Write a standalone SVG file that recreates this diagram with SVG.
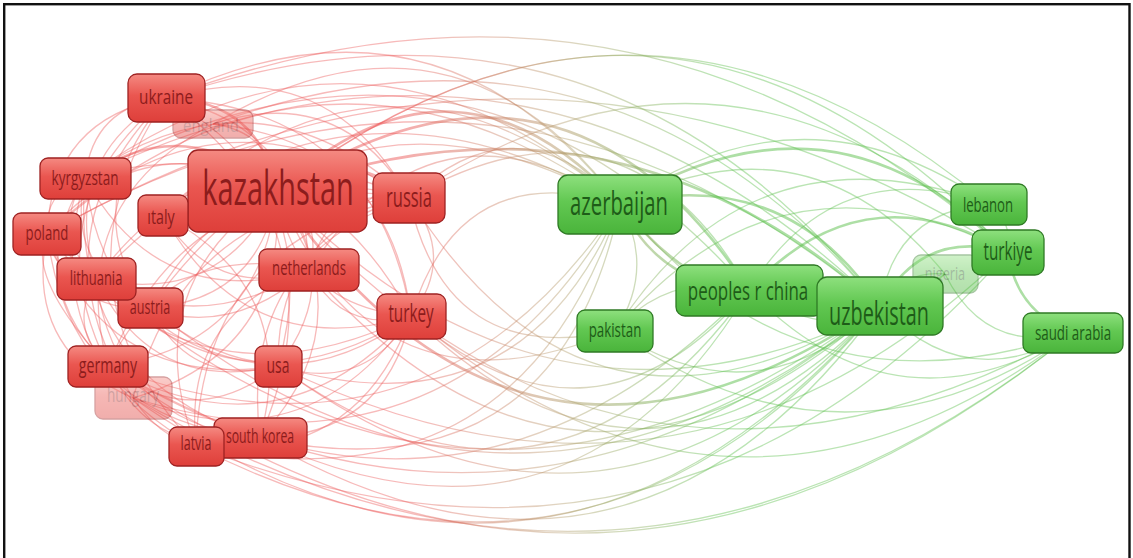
<svg xmlns="http://www.w3.org/2000/svg" width="1133" height="558" viewBox="0 0 1133 558">
<defs>
<linearGradient id="eg" gradientUnits="userSpaceOnUse" x1="400" y1="0" x2="720" y2="0">
<stop offset="0" stop-color="#ec5a5a"/>
<stop offset="0.5" stop-color="#b49a6a"/>
<stop offset="1" stop-color="#5cbf4c"/>
</linearGradient>
<linearGradient id="rg" x1="0" y1="0" x2="0" y2="1">
<stop offset="0" stop-color="#f58a82"/>
<stop offset="0.45" stop-color="#ea5650"/>
<stop offset="1" stop-color="#de3f3a"/>
</linearGradient>
<linearGradient id="gg" x1="0" y1="0" x2="0" y2="1">
<stop offset="0" stop-color="#8ee07e"/>
<stop offset="0.45" stop-color="#62c852"/>
<stop offset="1" stop-color="#4ab43b"/>
</linearGradient>
</defs>
<style>
.e{fill:none;stroke:url(#eg);stroke-width:1.3;stroke-opacity:.42}
.t{stroke-width:2.6;stroke-opacity:.5}
.rn rect{fill:url(#rg);stroke:#9e2222;stroke-width:1.3}
.gn rect{fill:url(#gg);stroke:#2f7a25;stroke-width:1.3}
.rn text{fill:#8c1c1c}
.gn text{fill:#1e5c18}
text{font-family:"Open Sans","Liberation Sans",sans-serif;text-anchor:middle}
.f{opacity:.42}
</style>
<rect x="0" y="0" width="1133" height="558" fill="#fff"/>
<g id="edges" class="edges">
<path class="e t" d="M277 191 Q455 26 620 204"/>
<path class="e t" d="M277 191 Q521 550 880 306"/>
<path class="e t" d="M277 191 Q562 5 749 290"/>
<path class="e" d="M277 191 Q670 -108 1008 252"/>
<path class="e" d="M277 191 Q376 430 615 331"/>
<path class="e" d="M277 191 Q638 -87 989 204"/>
<path class="e" d="M277 191 Q618 580 1073 333"/>
<path class="e" d="M409 198 Q518 96 620 204"/>
<path class="e" d="M409 198 Q591 488 880 306"/>
<path class="e" d="M409 198 Q625 74 749 290"/>
<path class="e" d="M411 316 Q460 156 620 204"/>
<path class="e" d="M411 316 Q651 546 880 306"/>
<path class="e" d="M411 316 Q593 472 749 290"/>
<path class="e" d="M166 98 Q435 -31 620 204"/>
<path class="e" d="M166 98 Q596 -48 880 306"/>
<path class="e" d="M47 234 Q489 -22 880 306"/>
<path class="e" d="M47 234 Q322 -10 620 204"/>
<path class="e" d="M108 366 Q515 606 880 306"/>
<path class="e" d="M108 366 Q429 490 620 204"/>
<path class="e" d="M278 366 Q606 607 880 306"/>
<path class="e" d="M278 366 Q552 564 749 290"/>
<path class="e" d="M260 438 Q629 651 880 306"/>
<path class="e" d="M196 446 Q517 516 620 204"/>
<path class="e" d="M133 398 Q548 688 880 306"/>
<path class="e" d="M96 279 Q328 32 620 204"/>
<path class="e" d="M85 178 Q527 -36 880 306"/>
<path class="e" d="M85 178 Q363 -23 620 204"/>
<path class="e" d="M309 270 Q432 82 620 204"/>
<path class="e" d="M309 270 Q577 574 880 306"/>
<path class="e" d="M163 215 Q387 4 620 204"/>
<path class="e" d="M150 308 Q516 599 880 306"/>
<path class="e" d="M213 124 Q453 -19 620 204"/>
<path class="e" d="M277 191 Q578 500 945 274"/>
<path class="e" d="M196 446 Q594 650 880 306"/>
<path class="e" d="M260 438 Q571 584 749 290"/>
<path class="e" d="M278 366 Q522 439 620 204"/>
<path class="e" d="M108 366 Q459 584 749 290"/>
<path class="e" d="M47 234 Q533 -45 1008 252"/>
<path class="e" d="M166 98 Q633 -78 1008 252"/>
<path class="e" d="M85 178 Q462 -32 749 290"/>
<path class="e" d="M409 198 Q730 -15 1008 252"/>
<path class="e" d="M411 316 Q735 589 1073 333"/>
<path class="e" d="M409 198 Q446 368 615 331"/>
<path class="e" d="M133 398 Q454 496 620 204"/>
<path class="e" d="M96 279 Q477 606 880 306"/>
<path class="e" d="M150 308 Q338 45 620 204"/>
<path class="e" d="M278 366 Q683 565 1008 252"/>
<path class="e" d="M260 438 Q557 501 620 204"/>
<path class="e" d="M213 124 Q610 -18 880 306"/>
<path class="e t" d="M277 191 Q613 68 880 306"/>
<path class="e" d="M133 398 Q626 694 1073 333"/>
<path class="e" d="M196 446 Q670 633 1008 252"/>
<path class="e" d="M108 366 Q603 716 1073 333"/>
<path class="e t" d="M620 204 Q719 333 880 306"/>
<path class="e t" d="M620 204 Q659 286 749 290"/>
<path class="e t" d="M620 204 Q833 73 1008 252"/>
<path class="e" d="M620 204 Q656 269 615 331"/>
<path class="e" d="M620 204 Q804 75 989 204"/>
<path class="e" d="M620 204 Q801 427 1073 333"/>
<path class="e t" d="M749 290 Q819 259 880 306"/>
<path class="e" d="M615 331 Q757 424 880 306"/>
<path class="e" d="M615 331 Q670 270 749 290"/>
<path class="e t" d="M880 306 Q922 228 1008 252"/>
<path class="e" d="M880 306 Q966 397 1073 333"/>
<path class="e" d="M880 306 Q894 211 989 204"/>
<path class="e" d="M880 306 Q903 270 945 274"/>
<path class="e t" d="M1008 252 Q1016 312 1073 333"/>
<path class="e" d="M989 204 Q1013 222 1008 252"/>
<path class="e t" d="M749 290 Q863 167 1008 252"/>
<path class="e" d="M749 290 Q894 441 1073 333"/>
<path class="e" d="M615 331 Q780 134 1008 252"/>
<path class="e" d="M615 331 Q843 492 1073 333"/>
<path class="e" d="M945 274 Q985 355 1073 333"/>
<path class="e" d="M749 290 Q835 151 989 204"/>
<path class="e" d="M620 204 Q810 109 945 274"/>
<path class="e" d="M749 290 Q853 360 945 274"/>
<path class="e t" d="M620 204 Q786 164 880 306"/>
<path class="e" d="M615 331 Q751 118 989 204"/>
<path class="e t" d="M166 98 Q259 100 277 191"/>
<path class="e t" d="M85 178 Q186 108 277 191"/>
<path class="e" d="M47 234 Q145 120 277 191"/>
<path class="e" d="M96 279 Q222 307 277 191"/>
<path class="e" d="M150 308 Q260 300 277 191"/>
<path class="e" d="M108 366 Q262 346 277 191"/>
<path class="e" d="M277 191 Q347 278 278 366"/>
<path class="e" d="M277 191 Q367 321 260 438"/>
<path class="e" d="M277 191 Q134 286 196 446"/>
<path class="e" d="M133 398 Q288 352 277 191"/>
<path class="e t" d="M277 191 Q346 142 409 198"/>
<path class="e" d="M277 191 Q294 307 411 316"/>
<path class="e" d="M277 191 Q325 218 309 270"/>
<path class="e" d="M163 215 Q210 157 277 191"/>
<path class="e" d="M213 124 Q272 132 277 191"/>
<path class="e" d="M166 98 Q327 51 409 198"/>
<path class="e" d="M166 98 Q376 109 411 316"/>
<path class="e" d="M47 234 Q52 118 166 98"/>
<path class="e" d="M108 366 Q30 209 166 98"/>
<path class="e" d="M166 98 Q329 187 278 366"/>
<path class="e" d="M166 98 Q349 230 260 438"/>
<path class="e" d="M196 446 Q42 284 166 98"/>
<path class="e" d="M96 279 Q59 160 166 98"/>
<path class="e" d="M166 98 Q306 127 309 270"/>
<path class="e" d="M85 178 Q255 58 409 198"/>
<path class="e" d="M85 178 Q303 117 411 316"/>
<path class="e" d="M108 366 Q21 281 85 178"/>
<path class="e" d="M85 178 Q106 349 278 366"/>
<path class="e" d="M85 178 Q68 378 260 438"/>
<path class="e" d="M47 234 Q214 71 409 198"/>
<path class="e" d="M47 234 Q196 421 411 316"/>
<path class="e" d="M47 234 Q164 357 309 270"/>
<path class="e" d="M47 234 Q110 392 278 366"/>
<path class="e" d="M47 234 Q72 421 260 438"/>
<path class="e" d="M96 279 Q220 113 409 198"/>
<path class="e" d="M96 279 Q239 424 411 316"/>
<path class="e" d="M96 279 Q114 424 260 438"/>
<path class="e" d="M96 279 Q152 395 278 366"/>
<path class="e" d="M150 308 Q235 149 409 198"/>
<path class="e" d="M150 308 Q277 416 411 316"/>
<path class="e" d="M108 366 Q191 162 409 198"/>
<path class="e" d="M108 366 Q280 462 411 316"/>
<path class="e" d="M108 366 Q170 238 309 270"/>
<path class="e" d="M108 366 Q155 463 260 438"/>
<path class="e" d="M108 366 Q193 434 278 366"/>
<path class="e" d="M133 398 Q191 188 409 198"/>
<path class="e" d="M133 398 Q305 468 411 316"/>
<path class="e" d="M196 446 Q203 237 409 198"/>
<path class="e" d="M196 446 Q356 467 411 316"/>
<path class="e" d="M196 446 Q182 313 309 270"/>
<path class="e" d="M260 438 Q238 258 409 198"/>
<path class="e" d="M260 438 Q384 437 411 316"/>
<path class="e" d="M278 366 Q276 230 409 198"/>
<path class="e" d="M278 366 Q364 394 411 316"/>
<path class="e" d="M309 270 Q330 194 409 198"/>
<path class="e" d="M163 215 Q279 108 409 198"/>
<path class="e" d="M163 215 Q247 365 411 316"/>
<path class="e" d="M213 124 Q341 83 409 198"/>
<path class="e" d="M213 124 Q389 141 411 316"/>
<path class="e" d="M108 366 Q64 203 213 124"/>
<path class="e" d="M47 234 Q44 191 85 178"/>
<path class="e" d="M47 234 Q53 276 96 279"/>
<path class="e" d="M96 279 Q50 233 85 178"/>
<path class="e" d="M108 366 Q67 327 96 279"/>
<path class="e" d="M85 178 Q93 106 166 98"/>
<path class="e" d="M108 366 Q25 276 47 234"/>
<path class="e" d="M133 398 Q180 469 260 438"/>
<path class="e" d="M150 308 Q191 388 278 366"/>
<path class="e" d="M96 279 Q206 360 309 270"/>
<path class="e" d="M85 178 Q160 314 309 270"/>
<path class="e" d="M150 308 Q74 209 166 98"/>
<path class="e" d="M133 398 Q29 235 166 98"/>
<path class="e" d="M133 398 Q24 350 47 234"/>
<path class="e" d="M85 178 Q33 356 196 446"/>
<path class="e" d="M163 215 Q301 288 260 438"/>
<path class="e" d="M409 198 Q457 256 411 316"/>
<path class="e" d="M309 270 Q342 334 411 316"/>
<path class="e" d="M163 215 Q214 301 309 270"/>
<path class="e" d="M85 178 Q65 269 150 308"/>
<path class="e" d="M47 234 Q69 312 150 308"/>
</g>
<g id="node-england" class="rn f"><rect x="173" y="110" width="80" height="28" rx="8"/><text transform="translate(211 132) scale(0.62 1)" font-size="18" textLength="90" lengthAdjust="spacingAndGlyphs">england</text></g>
<g id="node-hungary" class="rn f"><rect x="95" y="377" width="77" height="42" rx="8"/><text transform="translate(133 402) scale(0.62 1)" font-size="20" textLength="84" lengthAdjust="spacingAndGlyphs">hungary</text></g>
<g id="node-nigeria" class="gn f"><rect x="913" y="255" width="65" height="38" rx="8"/><text transform="translate(945 280) scale(0.62 1)" font-size="18" textLength="65" lengthAdjust="spacingAndGlyphs">nigeria</text></g>
<g id="node-ukraine" class="rn"><rect x="128" y="74" width="77" height="48" rx="9"/><text transform="translate(166 104) scale(0.62 1)" font-size="20" textLength="87" lengthAdjust="spacingAndGlyphs">ukraine</text></g>
<g id="node-kazakhstan" class="rn"><rect x="188" y="150" width="179" height="82" rx="10"/><text transform="translate(278 205) scale(0.62 1)" font-size="48" textLength="244" lengthAdjust="spacingAndGlyphs">kazakhstan</text></g>
<g id="node-russia" class="rn"><rect x="373" y="173" width="72" height="50" rx="9"/><text transform="translate(409 207) scale(0.62 1)" font-size="27" textLength="74" lengthAdjust="spacingAndGlyphs">russia</text></g>
<g id="node-kyrgyzstan" class="rn"><rect x="40" y="158" width="91" height="41" rx="8"/><text transform="translate(85 185) scale(0.62 1)" font-size="20" textLength="108" lengthAdjust="spacingAndGlyphs">kyrgyzstan</text></g>
<g id="node-italy" class="rn"><rect x="138" y="195" width="50" height="41" rx="8"/><text transform="translate(161 224) scale(0.62 1)" font-size="20" textLength="44" lengthAdjust="spacingAndGlyphs">ıtaly</text></g>
<g id="node-poland" class="rn"><rect x="13" y="213" width="68" height="42" rx="8"/><text transform="translate(47 240) scale(0.62 1)" font-size="20" textLength="69" lengthAdjust="spacingAndGlyphs">poland</text></g>
<g id="node-netherlands" class="rn"><rect x="259" y="249" width="100" height="42" rx="8"/><text transform="translate(309 275) scale(0.62 1)" font-size="20" textLength="119" lengthAdjust="spacingAndGlyphs">netherlands</text></g>
<g id="node-austria" class="rn"><rect x="118" y="288" width="65" height="40" rx="8"/><text transform="translate(150 314) scale(0.62 1)" font-size="20" textLength="65" lengthAdjust="spacingAndGlyphs">austria</text></g>
<g id="node-lithuania" class="rn"><rect x="57" y="258" width="79" height="42" rx="8"/><text transform="translate(96 285) scale(0.62 1)" font-size="20" textLength="85" lengthAdjust="spacingAndGlyphs">lithuania</text></g>
<g id="node-turkey" class="rn"><rect x="377" y="294" width="69" height="45" rx="9"/><text transform="translate(411 322) scale(0.62 1)" font-size="26" textLength="73" lengthAdjust="spacingAndGlyphs">turkey</text></g>
<g id="node-germany" class="rn"><rect x="68" y="346" width="80" height="41" rx="8"/><text transform="translate(108 373) scale(0.62 1)" font-size="21" textLength="94" lengthAdjust="spacingAndGlyphs">germany</text></g>
<g id="node-usa" class="rn"><rect x="255" y="346" width="47" height="41" rx="8"/><text transform="translate(278 373) scale(0.62 1)" font-size="21" textLength="37" lengthAdjust="spacingAndGlyphs">usa</text></g>
<g id="node-south-korea" class="rn"><rect x="214" y="418" width="93" height="40" rx="8"/><text transform="translate(260 443) scale(0.62 1)" font-size="20" textLength="110" lengthAdjust="spacingAndGlyphs">south korea</text></g>
<g id="node-latvia" class="rn"><rect x="169" y="427" width="55" height="39" rx="8"/><text transform="translate(196 450) scale(0.62 1)" font-size="20" textLength="50" lengthAdjust="spacingAndGlyphs">latvia</text></g>
<g id="node-azerbaijan" class="gn"><rect x="558" y="175" width="124" height="59" rx="10"/><text transform="translate(619 215) scale(0.62 1)" font-size="32" textLength="158" lengthAdjust="spacingAndGlyphs">azerbaijan</text></g>
<g id="node-pakistan" class="gn"><rect x="577" y="310" width="76" height="42" rx="8"/><text transform="translate(615 337) scale(0.62 1)" font-size="20" textLength="85" lengthAdjust="spacingAndGlyphs">pakistan</text></g>
<g id="node-peoples-r-china" class="gn"><rect x="676" y="265" width="147" height="51" rx="9"/><text transform="translate(748 300) scale(0.62 1)" font-size="26" textLength="194" lengthAdjust="spacingAndGlyphs">peoples r china</text></g>
<g id="node-uzbekistan" class="gn"><rect x="817" y="277" width="126" height="58" rx="10"/><text transform="translate(879 325) scale(0.62 1)" font-size="32" textLength="161" lengthAdjust="spacingAndGlyphs">uzbekistan</text></g>
<g id="node-lebanon" class="gn"><rect x="951" y="184" width="76" height="41" rx="8"/><text transform="translate(988 212) scale(0.62 1)" font-size="20" textLength="81" lengthAdjust="spacingAndGlyphs">lebanon</text></g>
<g id="node-turkiye" class="gn"><rect x="972" y="230" width="72" height="45" rx="9"/><text transform="translate(1008 260) scale(0.62 1)" font-size="25" textLength="79" lengthAdjust="spacingAndGlyphs">turkiye</text></g>
<g id="node-saudi-arabia" class="gn"><rect x="1023" y="313" width="100" height="40" rx="8"/><text transform="translate(1073 340) scale(0.62 1)" font-size="20" textLength="123" lengthAdjust="spacingAndGlyphs">saudi arabia</text></g>
<rect x="4.2" y="4.2" width="1125.3" height="600" fill="none" stroke="#111" stroke-width="2.4"/>
</svg>
